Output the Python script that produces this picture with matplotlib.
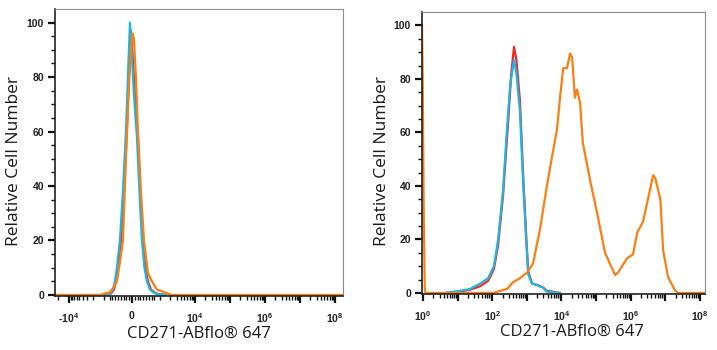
import numpy as np
import matplotlib
matplotlib.use("Agg")
import matplotlib.pyplot as plt
from matplotlib.ticker import FixedLocator, FixedFormatter

plt.rcParams['mathtext.fontset'] = 'custom'
plt.rcParams['mathtext.rm'] = 'Liberation Sans:bold'
plt.rcParams['mathtext.default'] = 'rm'

RED = "#ee2b2b"
CYAN = "#1db6e2"
ORANGE = "#fb7f12"

# ---- isotype / unstained / stained, left panel (biexponential-like axis) ----
left_red_x = [-1000, -750, -640, -570, -500, -390, -285, -180, -110, -36, 10, 70,
              140, 215, 300, 390, 480, 570, 680, 790, 930, 1500]
left_red_y = [0, 0.5, 2, 5, 10, 20, 38, 60, 80, 97, 90, 80,
              68, 58, 38, 20, 10, 5, 2, 1, 0.3, 0]

left_cyan_x = [-1000, -786, -679, -607, -536, -429, -321, -214, -143, -71, -18, 36,
               107, 179, 268, 357, 446, 536, 643, 750, 893, 1484]
left_cyan_y = [0, 0.5, 2, 5, 10, 20, 38, 60, 80, 100, 92, 80,
               68, 58, 38, 20, 10, 5, 2, 1, 0.3, 0]

left_orange_x = [-25000, -1301, -964, -786, -643, -536, -429, -321, -250, -179, -89, -36,
                 18, 71, 143, 214, 321, 429, 571, 714, 893, 1484, 2061, 2e8]
left_orange_y = [0, 0, 0.5, 1, 3, 5, 12, 20, 40, 60, 80, 90,
                 96, 94, 80, 60, 38, 20, 8, 5, 2, 0.8, 0, 0]

# ---- right panel (log axis), x given as log10 of intensity ----
right_red_lx = [0.66, 1.07, 1.36, 1.65, 1.88, 2.05, 2.17, 2.31, 2.46, 2.55, 2.63, 2.70,
                2.80, 2.89, 2.98, 3.04, 3.15, 3.29, 3.47, 3.58, 3.96]
right_red_y = [0, 0.5, 1.2, 2.5, 4.5, 9, 18, 36, 64, 82, 92, 87,
               72, 45, 22, 8, 3.5, 3, 2, 0.8, 0]

right_cyan_lx = [0.66, 1.07, 1.36, 1.65, 1.88, 2.05, 2.17, 2.31, 2.43, 2.52, 2.63, 2.70,
                 2.80, 2.89, 2.98, 3.04, 3.15, 3.29, 3.47, 3.58, 3.96]
right_cyan_y = [0, 0.8, 1.5, 3.5, 5.5, 10, 20, 38, 62, 78, 87, 82,
                68, 42, 20, 7, 3.5, 3, 2, 0.5, 0]

right_orange_lx = [-0.03, -0.01, 0.02, 0.05, 0.07, 2.02, 2.43, 2.60, 2.80, 3.01, 3.18,
                   3.38, 3.58, 3.73, 3.87, 3.96, 4.05, 4.16, 4.25, 4.31, 4.39, 4.45,
                   4.54, 4.62, 4.83, 5.03, 5.26, 5.55, 5.64, 5.90, 6.07, 6.19, 6.36,
                   6.50, 6.65, 6.71, 6.86, 6.94, 7.08, 7.28, 7.37, 8.2]
right_orange_y = [100, 80, 30, 2, 0, 0, 1.5, 4, 5.5, 7.7, 11,
                  23.7, 40, 51, 61, 73, 84, 84, 89.5, 88, 73, 76,
                  71, 56, 42, 30, 15, 6.7, 7.7, 13, 14.4, 22.5, 26.7,
                  35, 44, 43, 35, 16, 6, 1, 0, 0]

y_major = [0, 20, 40, 60, 80, 100]
y_minor = [5, 10, 15, 25, 30, 35, 45, 50, 55, 65, 70, 75, 85, 90, 95]

left_major = [-1e4, 0, 1e4, 1e5, 1e6, 1e7, 1e8]
left_labels = ['-$10^{4}$', '0', '$10^{4}$', '', '$10^{6}$', '', '$10^{8}$']
right_major = [10.0 ** k for k in range(0, 9)]
right_labels = ['$10^{%d}$' % k if k % 2 == 0 else '' for k in range(0, 9)]

XLABEL = "CD271-ABflo® 647"
YLABEL = "Relative Cell Number"


def style_axes(ax):
    ax.set_ylim(-0.4, 105)
    ax.yaxis.set_major_locator(FixedLocator(y_major))
    ax.yaxis.set_minor_locator(FixedLocator(y_minor))
    for s in ['top', 'right']:
        ax.spines[s].set_color('#8c8c8c')
        ax.spines[s].set_linewidth(0.8)
    for s in ['left', 'bottom']:
        ax.spines[s].set_color('#222222')
        ax.spines[s].set_linewidth(1.2)
    ax.tick_params(which='major', length=5, width=1.6, color='#111111',
                   labelsize=7.5, labelcolor='#222222', pad=3)
    ax.tick_params(which='minor', length=3, width=1.0, color='#111111')
    ax.tick_params(axis='x', which='major', pad=6)
    for lab in ax.get_xticklabels() + ax.get_yticklabels():
        lab.set_fontfamily('Liberation Sans')
        lab.set_fontweight('bold')
    ax.set_xlabel(XLABEL, fontsize=12, family='Open Sans', color='#1a1a1a')
    ax.set_ylabel(YLABEL, fontsize=12.5, family='Open Sans', color='#1a1a1a')


fig = plt.figure(figsize=(7.17, 3.5), dpi=100)

# left panel
ax1 = fig.add_axes([55 / 717, 1 - 296 / 350, 288 / 717, 287 / 350])
ax1.set_xscale('symlog', linthresh=1000, linscale=0.72)
ax1.set_xlim(-25000, 10 ** 8.23)
ax1.plot(left_red_x, left_red_y, color=RED, lw=1.6)
ax1.plot(left_cyan_x, left_cyan_y, color=CYAN, lw=1.6)
ax1.plot(left_orange_x, left_orange_y, color=ORANGE, lw=1.6)
ax1.xaxis.set_major_locator(FixedLocator(left_major))
ax1.xaxis.set_major_formatter(FixedFormatter(left_labels))
lminor = [-k * 10.0 ** d for d in (3, 4) for k in range(1, 10) if k * 10 ** d < 25000]
lminor += list(np.arange(-800, 801, 100))
lminor += [k * 10.0 ** d for d in range(3, 8) for k in range(1, 10)]
ax1.xaxis.set_minor_locator(FixedLocator(lminor))
style_axes(ax1)
ax1.xaxis.set_label_coords(0.5, -0.105)
ax1.yaxis.set_label_coords(-0.115, 0.47)

# right panel
ax2 = fig.add_axes([422 / 717, 1 - 294 / 350, 283 / 717, 282 / 350])
ax2.set_xscale('log')
ax2.set_xlim(10 ** -0.03, 10 ** 8.15)
ax2.plot(10.0 ** np.array(right_red_lx), right_red_y, color=RED, lw=1.6)
ax2.plot(10.0 ** np.array(right_cyan_lx), right_cyan_y, color=CYAN, lw=1.6)
ax2.plot(10.0 ** np.array(right_orange_lx), right_orange_y, color=ORANGE, lw=1.6)
ax2.xaxis.set_major_locator(FixedLocator(right_major))
ax2.xaxis.set_major_formatter(FixedFormatter(right_labels))
rminor = [k * 10.0 ** d for d in range(0, 8) for k in range(2, 10)]
ax2.xaxis.set_minor_locator(FixedLocator(rminor))
style_axes(ax2)
ax2.xaxis.set_label_coords(0.53, -0.105)
ax2.yaxis.set_label_coords(-0.113, 0.47)

fig.savefig("out.png", dpi=100)
